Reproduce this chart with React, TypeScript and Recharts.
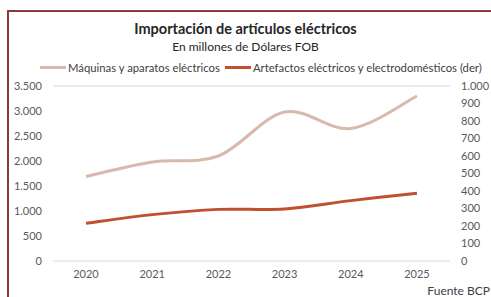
import { CartesianGrid, Line, LineChart, XAxis, YAxis } from "recharts";

const years = ["2020", "2021", "2022", "2023", "2024", "2025"];
const maquinas = [1690, 1980, 2100, 2980, 2650, 3300];
const artefactos = [215, 265, 295, 297, 345, 387];
const leftTicks = [0, 500, 1000, 1500, 2000, 2500, 3000, 3500];
const rightTicks = [0, 100, 200, 300, 400, 500, 600, 700, 800, 900, 1000];

const data = years.map((year, i) => ({
  year,
  maquinas: maquinas[i],
  artefactos: artefactos[i],
}));

const FONT = "Lato, 'Open Sans', sans-serif";
const TICK = { fontSize: 11, fill: "#595959", fontFamily: FONT };
const fmt = (v: number) => v.toLocaleString("de-DE");

// Excel-style smoothed line (Bezier with neighbour tangents)
function excelCurve(context: any) {
  let pts: [number, number][] = [];
  return {
    areaStart() {},
    areaEnd() {},
    lineStart() {
      pts = [];
    },
    point(x: number, y: number) {
      pts.push([+x, +y]);
    },
    lineEnd() {
      if (!pts.length) return;
      context.moveTo(pts[0][0], pts[0][1]);
      for (let i = 0; i < pts.length - 1; i++) {
        const p0 = pts[i - 1] || pts[i];
        const p1 = pts[i];
        const p2 = pts[i + 1];
        const p3 = pts[i + 2] || p2;
        context.bezierCurveTo(
          p1[0] + (p2[0] - p0[0]) / 6,
          p1[1] + (p2[1] - p0[1]) / 6,
          p2[0] - (p3[0] - p1[0]) / 6,
          p2[1] - (p3[1] - p1[1]) / 6,
          p2[0],
          p2[1]
        );
      }
    },
  };
}

const legendItems = [
  { label: "Máquinas y aparatos eléctricos", color: "#D9B8AE" },
  { label: "Artefactos eléctricos y electrodomésticos (der)", color: "#C0502F" },
];

function ChartLegend() {
  return (
    <div
      style={{
        position: "absolute",
        left: 40,
        top: 61,
        display: "flex",
        gap: 5,
        fontSize: 11.3,
        color: "#404040",
        whiteSpace: "nowrap",
      }}
    >
      {legendItems.map((it) => (
        <span key={it.label} style={{ display: "flex", alignItems: "center" }}>
          <span
            style={{
              display: "inline-block",
              width: 26,
              height: 3,
              background: it.color,
              marginRight: 2,
            }}
          />
          {it.label}
        </span>
      ))}
    </div>
  );
}

export default function App() {
  return (
    <div
      style={{
        position: "absolute",
        left: 0,
        top: 0,
        width: 491,
        height: 297,
        overflow: "hidden",
        background: "#fff",
        fontFamily: FONT,
      }}
    >
      <div
        style={{
          position: "absolute",
          left: 7,
          top: 10,
          width: 520,
          height: 320,
          border: "2px solid #8B3A3A",
        }}
      />
      <div
        style={{
          position: "absolute",
          top: 20,
          width: 491,
          textAlign: "center",
          fontWeight: "bold",
          fontSize: 14.5,
          color: "#262626",
        }}
      >
        Importación de artículos eléctricos
      </div>
      <div
        style={{
          position: "absolute",
          top: 39,
          width: 491,
          textAlign: "center",
          fontSize: 12,
          color: "#262626",
        }}
      >
        En millones de Dólares FOB
      </div>
      <ChartLegend />
      <LineChart
        width={491}
        height={297}
        data={data}
        margin={{ top: 86, right: 0, bottom: 14, left: 0 }}
        style={{ position: "absolute", left: 0, top: 0 }}
      >
        <CartesianGrid vertical={false} stroke="#D9D9D9" />
        <XAxis
          dataKey="year"
          axisLine={false}
          tickLine={false}
          tick={TICK}
          height={22}
          tickMargin={3}
          padding={{ left: 33, right: 33 }}
        />
        <YAxis
          yAxisId="left"
          domain={[0, 3500]}
          ticks={leftTicks}
          tickFormatter={fmt}
          axisLine={false}
          tickLine={false}
          tick={TICK}
          width={53}
          tickMargin={5}
          interval={0}
        />
        <YAxis
          yAxisId="right"
          orientation="right"
          domain={[0, 1000]}
          ticks={rightTicks}
          tickFormatter={fmt}
          axisLine={false}
          tickLine={false}
          tick={TICK}
          width={41}
          tickMargin={5}
          interval={0}
        />
        <Line
          yAxisId="left"
          dataKey="maquinas"
          type={excelCurve as any}
          stroke="#D9B8AE"
          strokeWidth={3}
          dot={false}
          isAnimationActive={false}
        />
        <Line
          yAxisId="right"
          dataKey="artefactos"
          type={excelCurve as any}
          stroke="#C0502F"
          strokeWidth={3}
          dot={false}
          isAnimationActive={false}
        />
      </LineChart>
      <div
        style={{
          position: "absolute",
          right: 1,
          top: 286,
          fontSize: 12,
          lineHeight: "10px",
          color: "#404040",
        }}
      >
        Fuente BCP
      </div>
    </div>
  );
}
